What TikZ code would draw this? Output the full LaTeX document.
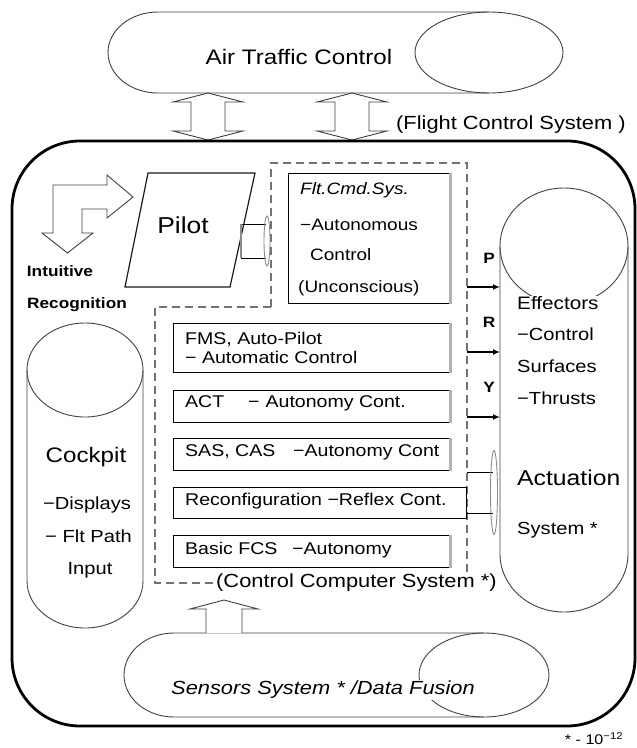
\documentclass[tikz,border=0pt]{standalone}
\usepackage{fontspec}
\setmainfont{Liberation Sans}[FakeStretch=1.15]
\usepackage{tikz}
\usetikzlibrary{arrows.meta,positioning,calc}

\newcommand{\sz}[1]{\fontsize{#1}{#1}\selectfont}

\begin{document}
\begin{tikzpicture}[x=1pt, y=-1pt,
    outline/.style={draw=black!75, line width=0.9pt},
    mainbox/.style={draw=black, line width=2.8pt, rounded corners=68pt},
    ccsline/.style={draw=black!55, line width=2pt, dash pattern=on 8pt off 5pt},
    cmdbox/.style={draw=black, line width=0.9pt, anchor=north west, inner sep=0pt},
    greyedge/.style={draw=black!30, line width=3pt},
    lbl/.style={inner sep=0pt, anchor=mid west},
    pry/.style={-{Latex[length=7pt,width=6pt]}, line width=1.8pt}]
    \useasboundingbox (0,0) rectangle (637,748);

    % Air traffic control
    \draw[outline] (158,12) -- (489,12) arc[start angle=270, end angle=450, x radius=74, y radius=40.5]
        -- (158,93) arc[start angle=90, end angle=270, x radius=50, y radius=40.5] -- cycle;
    \draw[outline] (489,12) arc[start angle=270, end angle=90, x radius=74, y radius=40.5];
    \node[font=\sz{21}] (atc) at (299,57) {Air Traffic Control};

    % double arrows to the flight control system
    \draw[outline, fill=white] (208,93) -- (243,102) -- (225,102) -- (225,131) -- (243,131) -- (208,140)
        -- (173,131) -- (191,131) -- (191,102) -- (173,102) -- cycle;
    \draw[outline, fill=white] (352,93) -- (387,102) -- (369,102) -- (369,131) -- (387,131) -- (352,140)
        -- (317,131) -- (335,131) -- (335,102) -- (317,102) -- cycle;
    \node[lbl, font=\sz{19}] (fcs) at (396,127) {(Flight Control System )};

    % flight control system
    \draw[mainbox] (12,141) rectangle (635,726);

    % intuitive recognition
    \draw[outline] (53,185) -- (107,185) -- (107,175) -- (133,197) -- (107,218) -- (107,209) -- (82,209)
        -- (82,233) -- (93,233) -- (67.5,253) -- (42,233) -- (53,233) -- cycle;
    \node[font=\bfseries\sz{15}] (intu) at (60,271) {Intuitive};
    \node[font=\bfseries\sz{15}] (recog) at (77,305) {Recognition};

    % pilot
    \draw[outline, draw=black!90, line width=1.2pt] (148,173) -- (255,173) -- (230,287) -- (125,287) -- cycle;
    \node[font=\sz{23}] (pilot) at (183,225) {Pilot};

    % control computer system
    \draw[ccsline] (271,307) -- (271,163) -- (467,163) -- (467,583) -- (155,583) -- (155,307) -- cycle;

    % link pilot - flt.cmd.sys.
    \coordinate (pa) at (241,224);
    \coordinate (pb) at (241,258);
    \draw[outline, draw=black] (pa) -- ++(25,0) (pb) -- ++(25,0);
    \draw[outline, draw=black!45, line width=1.5pt] (pa) -- (pb);
    \draw[outline, draw=black!45] (267,241) ellipse [x radius=3, y radius=25];

    % flt.cmd.sys.
    \node[cmdbox, minimum width=162pt, minimum height=130pt] (fcmd) at (288,173) {};
    \draw[greyedge] (fcmd.north east) -- (fcmd.south east);
    \node[lbl, font=\itshape\sz{16.5}] (fcmda) at (300,192) {Flt.Cmd.Sys.};
    \node[lbl, font=\sz{16.5}] (fcmdb) at (300,228) {−Autonomous};
    \node[lbl, font=\sz{16.5}] (fcmdc) at (310,258) {Control};
    \node[lbl, font=\sz{16.5}] (fcmdd) at (298,290) {(Unconscious)};

    % control layers
    \node[cmdbox, minimum width=277pt, minimum height=49pt] (fms) at (173,323) {};
    \node[cmdbox, minimum width=277pt, minimum height=32pt] (act) at (173,390) {};
    \node[cmdbox, minimum width=277pt, minimum height=32pt] (sas) at (173,438) {};
    \node[cmdbox, minimum width=293pt, minimum height=31pt] (reconf) at (173,487) {};
    \node[cmdbox, minimum width=277pt, minimum height=32pt] (basic) at (173,535) {};
    \foreach \b in {fms,act,sas,basic}
        \draw[greyedge] (\b.north east) -- (\b.south east);
    \node[lbl, font=\sz{17}] (fmsa) at (185,342) {FMS, Auto-Pilot};
    \node[lbl, font=\sz{17}] (fmsb) at (185,361) {− Automatic Control};
    \node[lbl, font=\sz{17}] (acta) at (185,405) {\makebox[63pt][l]{ACT}−\hspace{6pt}Autonomy Cont.};
    \node[lbl, font=\sz{17}] (sasa) at (185,454) {\makebox[108pt][l]{SAS, CAS}−Autonomy Cont};
    \node[lbl, font=\sz{17}] (reconfa) at (185,503) {Reconfiguration −Reflex Cont.};
    \node[lbl, font=\sz{17}] (basica) at (185,552) {\makebox[107pt][l]{Basic FCS}−Autonomy};
    \node[lbl, font=\sz{19}, fill=white, inner sep=1pt] (ccs) at (215,585) {(Control Computer System *)};

    % cockpit
    \draw[outline] (27,370) arc[start angle=180, end angle=360, x radius=58, y radius=47]
        -- (143,581) arc[start angle=0, end angle=180, x radius=58, y radius=47] -- cycle;
    \draw[outline] (27,370) arc[start angle=180, end angle=0, x radius=58, y radius=47];
    \node[font=\sz{21}] (ck) at (86,457) {Cockpit};
    \node[lbl, font=\sz{17.5}] (cka) at (43,507) {−Displays};
    \node[lbl, font=\sz{17.5}] (ckb) at (45,540) {− Flt Path};
    \node[font=\sz{17.5}] (ckc) at (90,570) {Input};

    % effectors / actuation system
    \draw[outline] (500,246) arc[start angle=180, end angle=360, x radius=64, y radius=58]
        -- (628,554) arc[start angle=0, end angle=180, x radius=64, y radius=58] -- cycle;
    \draw[outline] (500,246) arc[start angle=180, end angle=0, x radius=64, y radius=58];
    \coordinate (efw) at (500,0);
    \node[lbl, font=\sz{18}, fill=white, inner sep=1pt] (eff) at (516,307) {Effectors};
    \node[lbl, font=\sz{17.5}] (effa) at (517,338) {−Control};
    \node[lbl, font=\sz{17.5}] (effb) at (517,370) {Surfaces};
    \node[lbl, font=\sz{17.5}] (effc) at (517,402) {−Thrusts};
    \node[lbl, font=\sz{21.5}] (acts) at (517,483) {Actuation};
    \node[lbl, font=\sz{17.5}] (actsa) at (517,532) {System *};

    % pitch, roll, yaw commands
    \coordinate (pin) at (467,287);
    \coordinate (rin) at (467,352);
    \coordinate (yin) at (467,417);
    \draw[pry] (pin) -- (pin -| efw);
    \draw[pry] (rin) -- (rin -| efw);
    \draw[pry] (yin) -- (yin -| efw);
    \node[font=\bfseries\sz{15}] (p) at (489,258) {P};
    \node[font=\bfseries\sz{15}] (r) at (489,322) {R};
    \node[font=\bfseries\sz{15}] (yy) at (489,387) {Y};

    % link control computer - actuation
    \coordinate (la) at (467,472);
    \coordinate (lb) at (467,513);
    \draw[outline, draw=black] (la) -- ++(26,0) (lb) -- ++(26,0);
    \draw[outline, draw=black!45] (494,492.5) ellipse [x radius=3.5, y radius=42];

    % sensors system
    \draw[outline] (174,633) -- (484,633) arc[start angle=270, end angle=450, x radius=65, y radius=42]
        -- (174,717) arc[start angle=90, end angle=270, x radius=50, y radius=42] -- cycle;
    \draw[outline] (484,633) arc[start angle=270, end angle=90, x radius=65, y radius=42];
    \node[font=\itshape\sz{19}, fill=white, inner sep=1pt] (sens) at (323,690) {Sensors System * /Data Fusion};

    % sensor data up to the computer
    \draw[outline, fill=white] (242,633) -- (242,609) -- (258,609) -- (224,600) -- (190,609) -- (206,609) -- (206,633);

    % footnote
    \node[font=\sz{14}] (note) at (594,739) {* - 10\textsuperscript{−12}};
\end{tikzpicture}
\end{document}
